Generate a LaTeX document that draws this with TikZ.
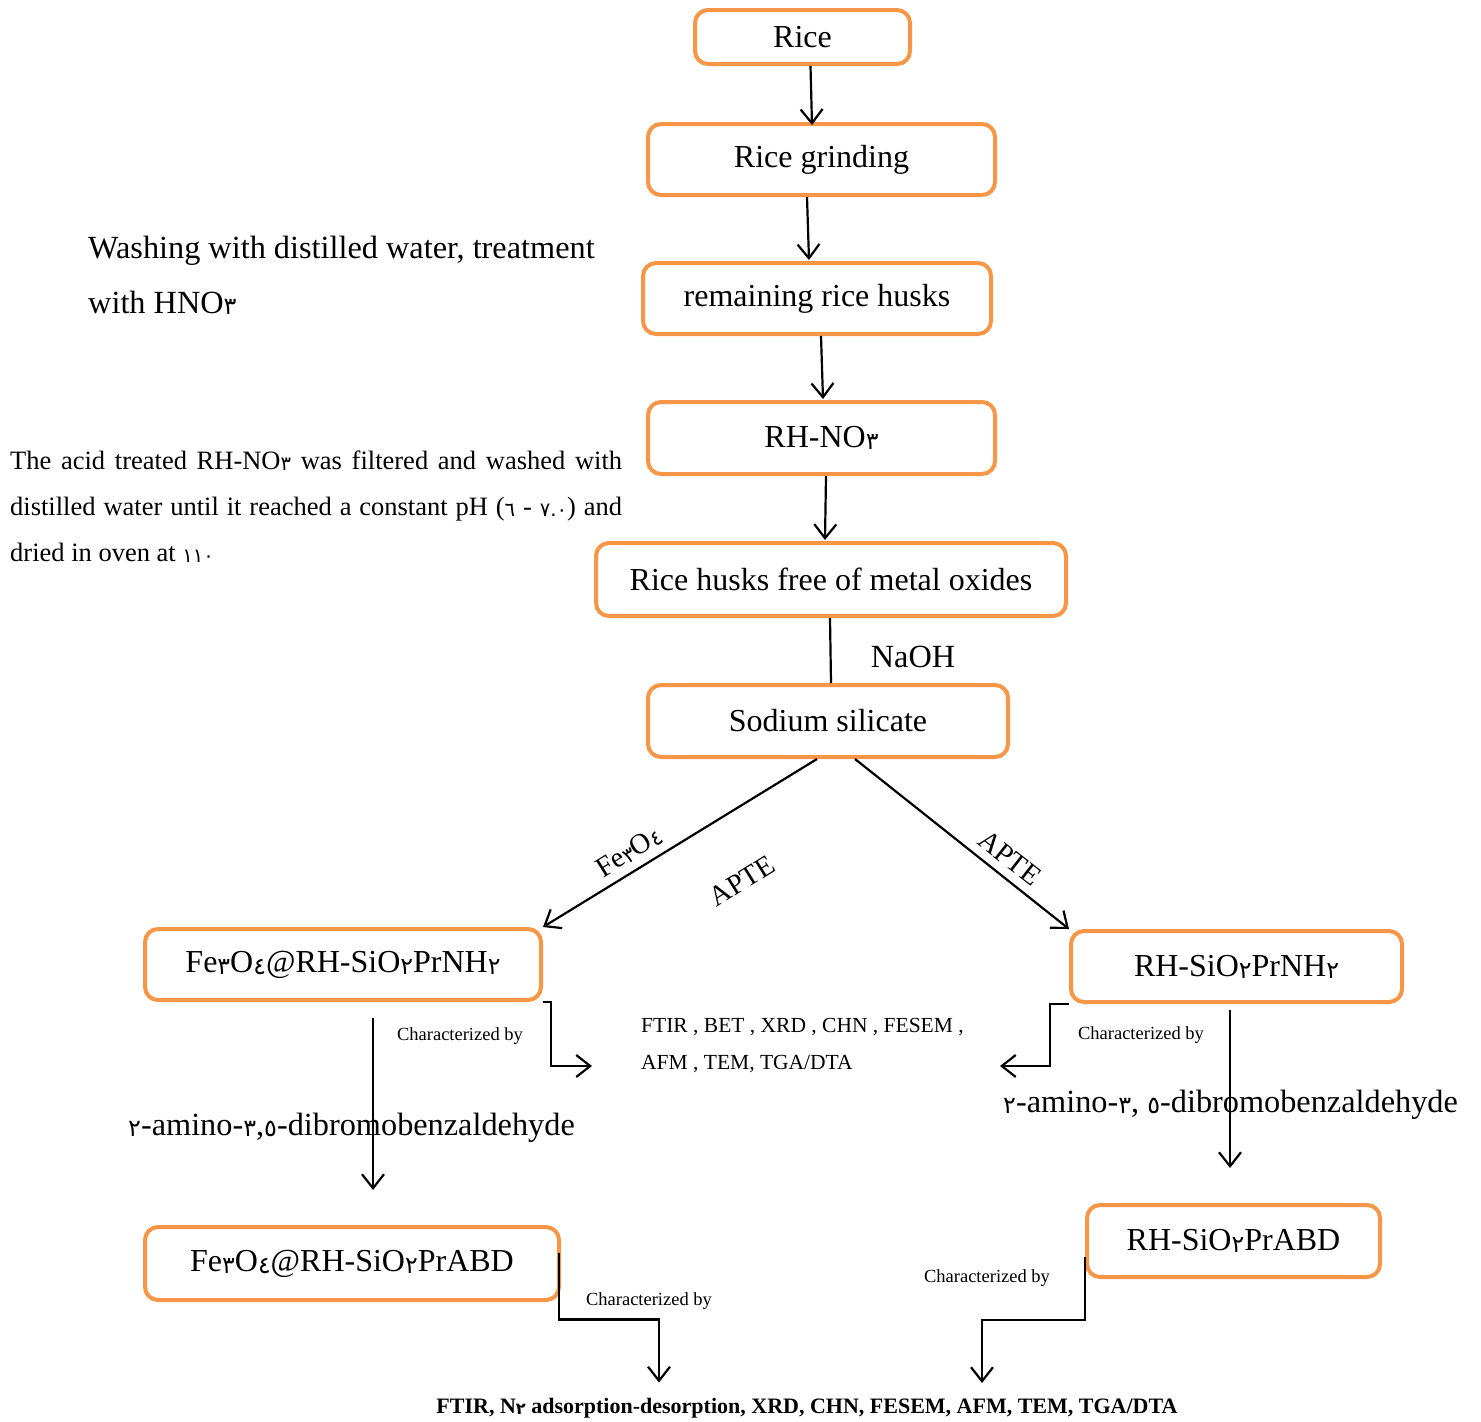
\documentclass[tikz,border=0pt]{standalone}
\usepackage{fontspec}
\setmainfont{Liberation Serif}
\newfontfamily\arfont[Script=Arabic]{DejaVu Sans}
\usetikzlibrary{arrows.meta,calc}
\definecolor{boxorange}{HTML}{F79646}
% Arabic-Indic digits, set small like subscripts
\newcommand\ad[1]{{\arfont\raisebox{-0.06em}{\scalebox{0.74}{#1}}}}
\begin{document}
\begin{tikzpicture}[x=1pt,y=-1pt,
  box/.style={draw=boxorange, line width=4pt, rounded corners=13pt, inner sep=0pt,
              fill=white, font=\fontsize{32}{37}\selectfont},
  arr/.style={line width=2.2pt, line join=miter,
              -{Straight Barb[length=14pt,width=22pt,line width=2.2pt]}},
  conn/.style={line width=2.2pt},
  lbl/.style={inner sep=0pt, font=\fontsize{32.3}{37}\selectfont},
  tilted/.style={inner sep=0pt, font=\fontsize{28.5}{32}\selectfont},
  para/.style={inner sep=0pt, font=\fontsize{26.5}{30}\selectfont},
  small/.style={inner sep=0pt, font=\fontsize{18.5}{22}\selectfont},
  list/.style={inner sep=0pt, font=\fontsize{21.5}{25}\selectfont},
]
\fill[white] (0,0) rectangle (1481,1422);
\useasboundingbox (0,0) rectangle (1481,1422);

% process boxes
\node[box, minimum width=215pt, minimum height=54pt] (rice)   at (802.5,37)    {Rice};
\node[box, minimum width=347pt, minimum height=71pt] (grind)  at (821.5,159.5) {Rice grinding};
\node[box, minimum width=348pt, minimum height=71pt] (remain) at (817,298.5)   {remaining rice husks};
\node[box, minimum width=347pt, minimum height=72pt] (rhno)   at (821.5,438)   {RH-NO\ad{٣}};
\node[box, minimum width=470pt, minimum height=73pt] (free)   at (831,579.5)   {Rice husks free of metal oxides};
\node[box, minimum width=360pt, minimum height=72pt] (sodium) at (828,721)     {Sodium silicate};
\node[box, minimum width=396pt, minimum height=71pt] (fe1)    at (343,964.5)   {Fe\ad{٣}O\ad{٤}@RH-SiO\ad{٢}PrNH\ad{٢}};
\node[box, minimum width=331pt, minimum height=71pt] (rh1)    at (1236.5,966.5){RH-SiO\ad{٢}PrNH\ad{٢}};
\node[box, minimum width=414pt, minimum height=73pt] (fe2)    at (352,1263.5)  {Fe\ad{٣}O\ad{٤}@RH-SiO\ad{٢}PrABD};
\node[box, minimum width=293pt, minimum height=72pt] (rh2)    at (1233.5,1241) {RH-SiO\ad{٢}PrABD};

% main chain
\draw[arr] ($(rice.south)+(8,0)$)     -- ($(grind.north)+(-9.5,3)$);
\draw[arr] ($(grind.south)+(-14.5,0)$) -- ($(remain.north)+(-8,-1)$);
\draw[arr] ($(remain.south)+(4,0)$)    -- ($(rhno.north)+(1.5,-1)$);
\draw[arr] ($(rhno.south)+(4.5,0)$)    -- ($(free.north)+(-6,-1)$);
\draw[conn] ($(free.south)+(-1,0)$)    -- ($(sodium.north)+(3,0)$);

% branches
\draw[arr] ($(sodium.south)+(-11,0)$) -- (fe1.north east);
\draw[arr] ($(sodium.south)+(27,0)$)  -- (rh1.north west);
\draw[arr] ($(fe1.south)+(30,16)$)    -- ($(fe2.north)+(21,-35)$);
\draw[arr] ($(rh1.south)+(-6.5,6)$)   -- ($(rh2.north)+(-3.5,-35)$);

% characterization connectors
\draw[arr] (fe1.south east) -- ++(8,0) -- ++(0,64) -- ++(41,0);
\draw[arr] (rh1.south west) -- ++(-19,0) -- ++(0,62) -- ++(-50,0);
\draw[arr] ($(fe2.east)+(-2,-11)$) -- ++(0,67) -- ++(100,0) -- ++(0,63);
\draw[arr] ($(rh2.west)+(0,16)$) -- ++(0,63) -- ++(-103,0) -- ++(0,63);

% reagent labels
\node[lbl] (naoh) at (913,657) {NaOH};
\node[tilted, rotate=32]  (feox)  at (629,852) {Fe\ad{٣}O\ad{٤}};
\node[tilted, rotate=32]  (apteL) at (742,881) {APTE};
\node[tilted, rotate=-38] (apteR) at (1010,858) {APTE};

% side notes
\node[lbl, anchor=base west] (wash1) at (88,258) {Washing with distilled water, treatment};
\node[lbl, anchor=base west] (wash2) at (88,313) {with HNO\ad{٣}};
\node[para, anchor=base west] (acid1) at (10,469) {\makebox[612pt][s]{The acid treated RH-NO\ad{٣} was filtered and washed with}};
\node[para, anchor=base west] (acid2) at (10,515) {\makebox[612pt][s]{distilled water until it reached a constant pH (\ad{٦} - \ad{٧.٠}) and}};
\node[para, anchor=base west] (acid3) at (10,561) {dried in oven at \ad{١١٠}};

\node[lbl, anchor=base west] (amL) at (128,1135) {\ad{٢}-amino-\ad{٣},\ad{٥}-dibromobenzaldehyde};
\node[lbl, anchor=base west] (amR) at (1003,1112) {\ad{٢}-amino-\ad{٣}, \ad{٥}-dibromobenzaldehyde};

% characterization labels
\node[small] (c1) at (460,1036) {Characterized by};
\node[small] (c2) at (1141,1035) {Characterized by};
\node[small] (c3) at (987,1278) {Characterized by};
\node[small] (c4) at (649,1301) {Characterized by};
\node[list, anchor=base west] (l1) at (641,1032) {FTIR , BET , XRD , CHN , FESEM ,};
\node[list, anchor=base west] (l2) at (641,1069) {AFM , TEM, TGA/DTA};
\node[inner sep=0pt, font=\bfseries\fontsize{22}{26}\selectfont] (l3) at (807,1408)
  {FTIR, N\ad{٢} adsorption-desorption, XRD,\ CHN,\ FESEM,\ AFM,\ TEM,\ TGA/DTA};
\end{tikzpicture}
\end{document}
